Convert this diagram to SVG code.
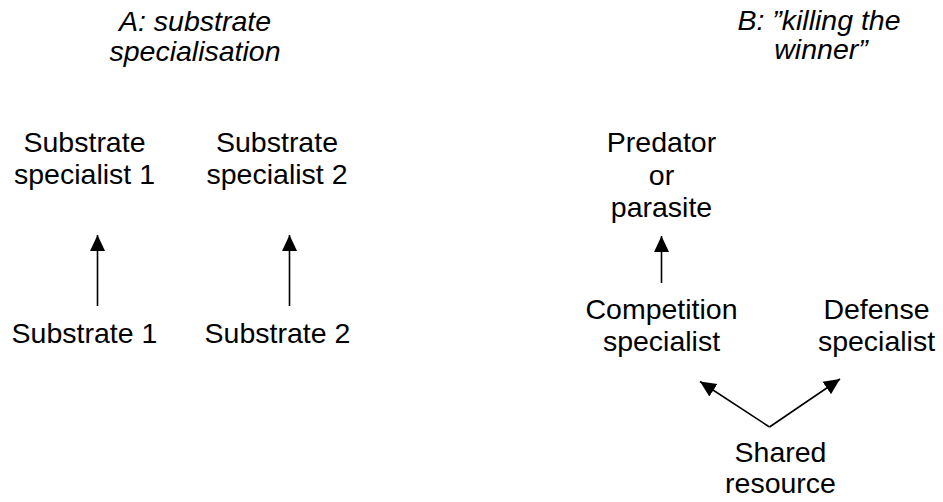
<svg xmlns="http://www.w3.org/2000/svg" width="943" height="502" viewBox="0 0 943 502">
<style>
  text { font-family: "Liberation Sans", Arial, sans-serif; font-size: 28.5px; fill: #000; text-anchor: middle; }
  .title { font-style: italic; }
  .conn { stroke: #000; stroke-width: 1.6; fill: none; marker-end: url(#ah); }
</style>
<defs>
  <marker id="ah" markerUnits="userSpaceOnUse" markerWidth="16" markerHeight="16" viewBox="0 0 16 16" refX="16" refY="8" orient="auto">
    <path d="M0,0.5 L16,8 L0,15.5 Z" fill="#000"/>
  </marker>
</defs>
<rect width="943" height="502" fill="#fff"/>
<g id="title-a">
  <text class="title" x="195" y="31">A: substrate</text>
  <text class="title" x="195" y="61">specialisation</text>
</g>
<g id="title-b">
  <text class="title" x="819" y="30">B: ”killing the</text>
  <text class="title" x="821" y="59">winner”</text>
</g>
<g id="substrate-specialist-1">
  <text x="84.5" y="152">Substrate</text>
  <text x="84.5" y="184">specialist 1</text>
</g>
<g id="substrate-specialist-2">
  <text x="277" y="152">Substrate</text>
  <text x="277" y="184">specialist 2</text>
</g>
<g id="substrate-1">
  <text x="84.5" y="343">Substrate 1</text>
</g>
<g id="substrate-2">
  <text x="277.5" y="343">Substrate 2</text>
</g>
<g id="predator">
  <text x="661.5" y="152">Predator</text>
  <text x="661.5" y="185">or</text>
  <text x="661.5" y="217">parasite</text>
</g>
<g id="competition-specialist">
  <text x="661.5" y="319">Competition</text>
  <text x="661.5" y="351">specialist</text>
</g>
<g id="defense-specialist">
  <text x="876.5" y="319">Defense</text>
  <text x="876.5" y="351">specialist</text>
</g>
<g id="shared-resource">
  <text x="780.5" y="462">Shared</text>
  <text x="780.5" y="493">resource</text>
</g>
<g id="connectors">
  <path class="conn" d="M97.5,306 L97.5,235"/>
  <path class="conn" d="M289.5,306 L289.5,235"/>
  <path class="conn" d="M661.5,283 L661.5,236"/>
  <path class="conn" d="M769.5,427 L700,381.5"/>
  <path class="conn" d="M769.5,427 L840,379"/>
</g>
</svg>
